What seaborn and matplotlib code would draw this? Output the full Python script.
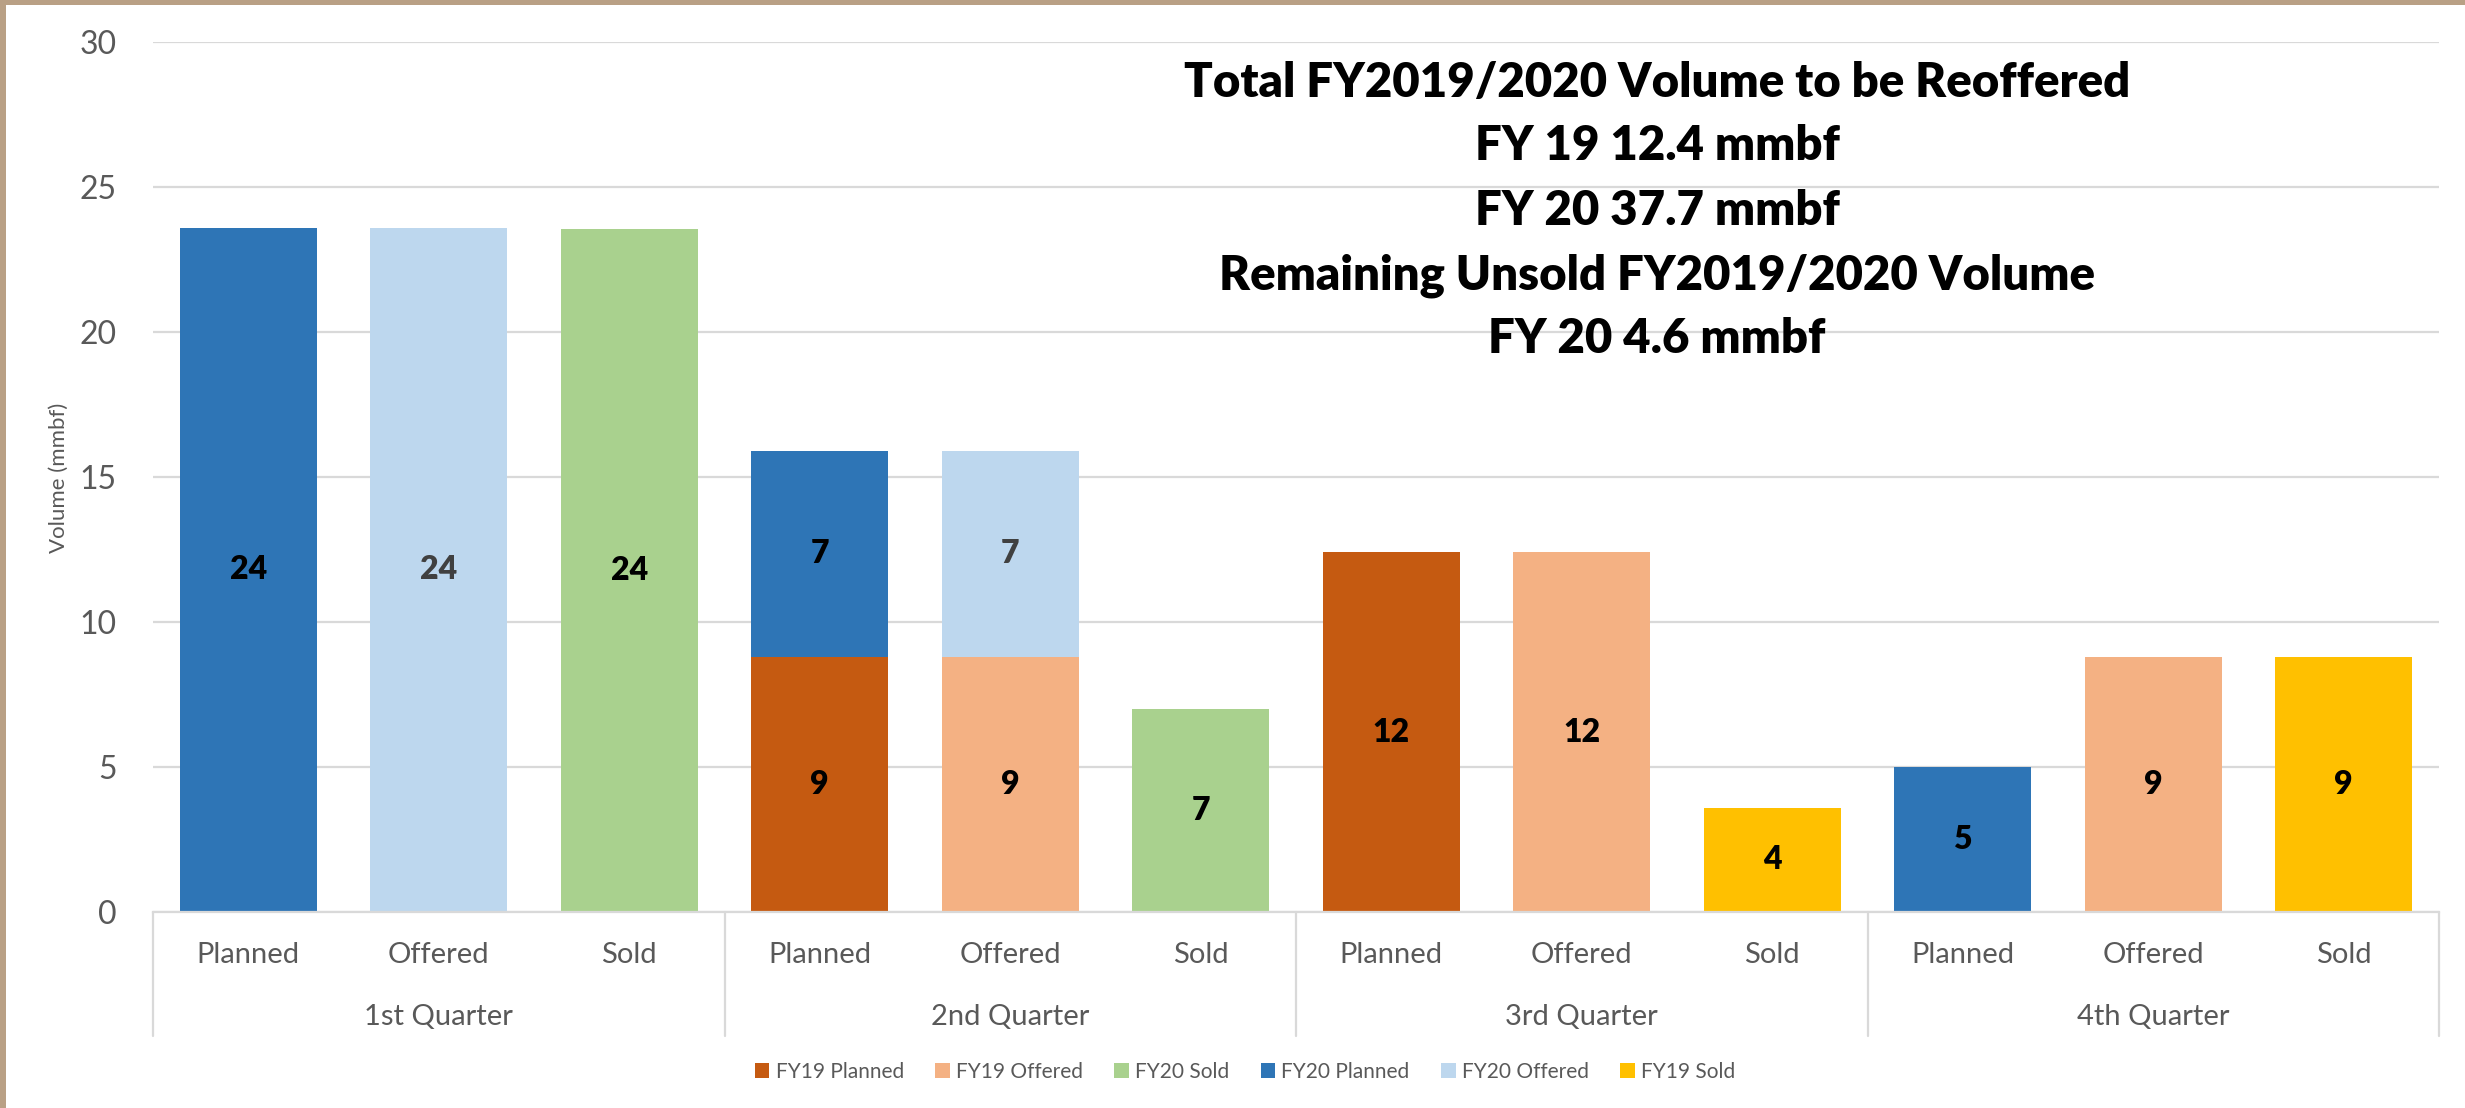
import numpy as np
import pandas as pd
import matplotlib
matplotlib.use("Agg")
import matplotlib.pyplot as plt
from matplotlib.patches import Patch, Rectangle
import seaborn as sns

# ---------------- data ----------------
quarters = ["1st Quarter", "2nd Quarter", "3rd Quarter", "4th Quarter"]
stages = ["Planned", "Offered", "Sold"]

series_names = ["FY19 Planned", "FY19 Offered", "FY20 Sold",
                "FY20 Planned", "FY20 Offered", "FY19 Sold"]
series_colors = ["#C55A11", "#F4B183", "#A9D18E", "#2E75B6", "#BDD7EE", "#FFC000"]
label_colors = ["#000000", "#000000", "#000000", "#000000", "#404040", "#000000"]

# one value per (quarter, stage) slot, 12 slots
fy19_planned = [0, 0, 0,    8.8, 0, 0,    12.4, 0, 0,    0, 0, 0]
fy19_offered = [0, 0, 0,    0, 8.8, 0,    0, 12.4, 0,    0, 8.8, 0]
fy20_sold    = [0, 0, 23.55, 0, 0, 7.0,   0, 0, 0,       0, 0, 0]
fy20_planned = [23.6, 0, 0, 7.1, 0, 0,    0, 0, 0,       5.0, 0, 0]
fy20_offered = [0, 23.6, 0, 0, 7.1, 0,    0, 0, 0,       0, 0, 0]
fy19_sold    = [0, 0, 0,    0, 0, 0,      0, 0, 3.6,     0, 0, 8.8]

series_values = [fy19_planned, fy19_offered, fy20_sold,
                 fy20_planned, fy20_offered, fy19_sold]

annotation_lines = ["Total FY2019/2020 Volume to be Reoffered",
                    "FY 19 12.4 mmbf",
                    "FY 20 37.7 mmbf",
                    "Remaining Unsold FY2019/2020 Volume",
                    "FY 20 4.6 mmbf"]

# ---------------- build table ----------------
slots = [f"{q}|{s}" for q in quarters for s in stages]
vals = np.array(series_values, dtype=float)          # (series, slot)
tops = np.cumsum(vals, axis=0)
bottoms = tops - vals
rows = []
for i, name in enumerate(series_names):
    for j, slot in enumerate(slots):
        if vals[i, j] > 0:
            rows.append(dict(series=name, idx=i, slot=slot, pos=j,
                             value=vals[i, j], top=tops[i, j],
                             mid=bottoms[i, j] + vals[i, j] / 2))
df = pd.DataFrame(rows)

# ---------------- style ----------------
sns.set_theme(style="white")
plt.rcParams["font.family"] = ["Lato", "DejaVu Sans"]

W, H = 2465, 1108
fig = plt.figure(figsize=(W / 100, H / 100), dpi=100)
fig.patch.set_facecolor("white")
ax = fig.add_axes([153 / W, 1 - 912 / H, 2286 / W, 870 / H])

grid_c = "#D9D9D9"
text_c = "#595959"

# stacked bars: draw cumulative totals from top series down
for i in reversed(range(len(series_names))):
    sub = df[df["idx"] == i]
    if sub.empty:
        continue
    sns.barplot(data=sub, x="slot", y="top", order=slots,
                color=series_colors[i], saturation=1, width=0.72,
                errorbar=None, linewidth=0, ax=ax, zorder=2)

# data labels
for _, r in df.iterrows():
    ax.text(r["pos"], r["mid"], f"{r['value']:.0f}", ha="center", va="center",
            fontsize=23, fontweight="heavy", color=label_colors[r["idx"]], zorder=5)

ax.set_xlim(-0.5, len(slots) - 0.5)
ax.set_ylim(0, 30)
ax.set_yticks(np.arange(0, 31, 5))
ax.yaxis.grid(True, color=grid_c, linewidth=1.6)
ax.set_axisbelow(True)
for s in ["left", "right", "top"]:
    ax.spines[s].set_visible(False)
ax.spines["bottom"].set_color(grid_c)
ax.spines["bottom"].set_linewidth(1.6)
ax.tick_params(axis="both", length=0)
ax.tick_params(axis="y", labelsize=23, labelcolor=text_c, pad=26)
ax.set_xticks(range(len(slots)))
ax.set_xticklabels([s.split("|")[1] for s in slots])
ax.tick_params(axis="x", labelsize=21, labelcolor=text_c, pad=21.5)
ax.set_xlabel("")
ax.set_ylabel("Volume (mmbf)", fontsize=16, color=text_c)
ax.yaxis.set_label_coords(-84 / 2286, (912 - 478) / 870)

# quarter labels and separators
xt = ax.get_xaxis_transform()
sep_bottom = -(1036 - 912) / 870
for k, q in enumerate(quarters):
    ax.text(k * 3 + 1, -(1017 - 912) / 870, q, transform=xt, ha="center",
            va="center", fontsize=21, color=text_c)
for b in np.arange(-0.5, len(slots), 3):
    ax.plot([b, b], [0, sep_bottom], transform=xt, color=grid_c,
            linewidth=1.6, clip_on=False, zorder=1)

# annotation text box
baselines = [97, 160, 225, 290, 353]
for line, yb in zip(annotation_lines, baselines):
    fig.text(1657 / W, 1 - yb / H, line, ha="center", va="baseline",
             fontsize=34, fontweight="heavy", color="black")

# legend
handles = [Patch(facecolor=c, edgecolor="none", label=n)
           for n, c in zip(series_names, series_colors)]
leg = fig.legend(handles=handles, loc="center", bbox_to_anchor=(1245 / W, 1 - 1072 / H),
                 ncol=6, frameon=False, fontsize=15, handlelength=0.7,
                 handleheight=0.7, handletextpad=0.3, columnspacing=1.5)
for t in leg.get_texts():
    t.set_color(text_c)

# tan frame on top and left edges
fig.patches.append(Rectangle((0, 1 - 5 / H), 1, 5 / H, transform=fig.transFigure,
                             facecolor="#B9A085", edgecolor="none", zorder=10))
fig.patches.append(Rectangle((0, 0), 6 / W, 1, transform=fig.transFigure,
                             facecolor="#B9A085", edgecolor="none", zorder=10))

fig.savefig("out.png", dpi=100, facecolor="white")
